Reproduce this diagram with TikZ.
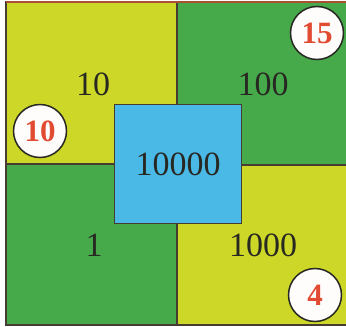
\documentclass[tikz,border=0pt]{standalone}
\usepackage{fontspec}
\setmainfont{Liberation Serif}
\definecolor{yel}{RGB}{205,215,40}
\definecolor{grn}{RGB}{70,170,75}
\definecolor{blu}{RGB}{75,185,230}
\definecolor{edge}{RGB}{70,60,50}
\definecolor{numred}{RGB}{225,75,50}
\definecolor{txt}{RGB}{40,40,35}
\begin{document}
\begin{tikzpicture}[x=1pt,y=-1pt,
  region/.style={draw=edge,line width=1.2pt},
  val/.style={text=txt,font=\fontsize{34}{34}\selectfont,inner sep=0pt},
  badge/.style={circle,draw=txt,line width=1.5pt,fill=white!95!pink,minimum size=53pt,inner sep=0pt,text=numred,font=\fontsize{31}{31}\selectfont\bfseries}]
\useasboundingbox (0,0) rectangle (346,327);
\fill[white] (0,0) rectangle (346,327);
% quadrants
\filldraw[region,fill=yel] (6,2) rectangle (177,164);
\filldraw[region,fill=grn] (177,2) rectangle (348,165);
\filldraw[region,fill=grn] (6,164) rectangle (177,325);
\filldraw[region,fill=yel] (177,165) rectangle (348,325);
\draw[draw={rgb,255:red,170;green,80;blue,50},line width=1.2pt] (6,2) -- (348,2);
% centre square
\node[region,fill=blu,minimum width=127pt,minimum height=119pt,inner sep=0pt,anchor=north west] (c) at (114,104) {};
\node[val] (v10000) at (c.center) {10000};
\node[val] (v10) at (93,84) {10};
\node[val] (v100) at (263,84) {100};
\node[val] (v1) at (94,245) {1};
\node[val] (v1000) at (263,245) {1000};
% badges
\node[badge] (b10) at (40,131) {10};
\node[badge] (b15) at (317,33) {15};
\node[badge] (b4) at (315,295) {4};
\end{tikzpicture}
\end{document}
